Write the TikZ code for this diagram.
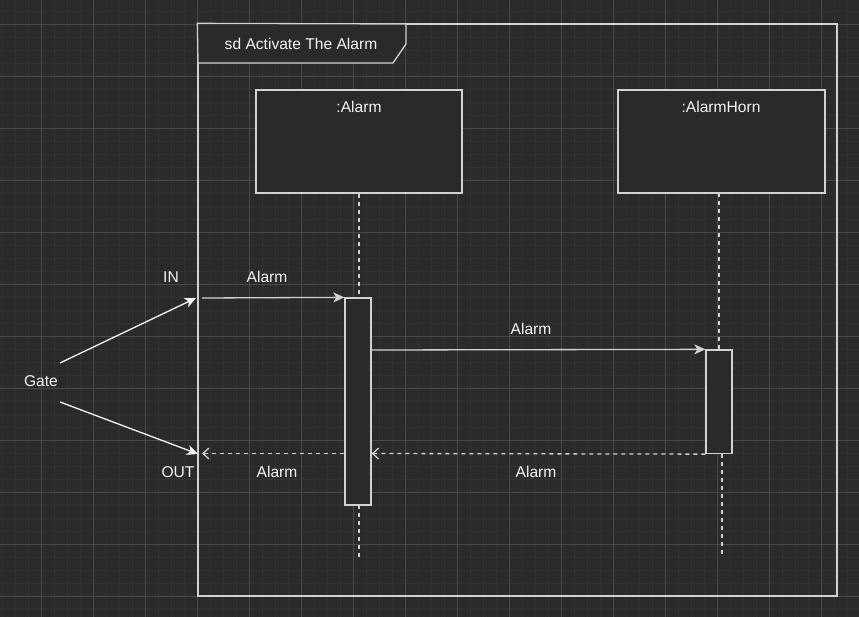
\documentclass[tikz,border=0pt]{standalone}
\usepackage{fontspec}
\setmainfont{Liberation Sans}
\usetikzlibrary{arrows.meta,calc}
\definecolor{bgc}{HTML}{2A2A2A}
\definecolor{minorg}{HTML}{333333}
\definecolor{majorg}{HTML}{4A4A4A}
\definecolor{linec}{HTML}{D2D2D2}
\definecolor{txtc}{HTML}{F4F4F4}
\tikzset{
  every node/.style={font=\fontsize{15.6}{18}\selectfont, text=txtc},
  box/.style={draw=linec, line width=1.3pt, fill=bgc, rectangle, inner sep=0pt},
  lbl/.style={inner sep=0pt},
  msg/.style={draw=linec, line width=1.3pt, -{Stealth[length=11pt,width=10pt,inset=3pt]}},
  ret/.style={draw=linec, line width=1.3pt, dash pattern=on 4pt off 4pt, -{Straight Barb[length=6pt,width=11pt]}},
  life/.style={draw=linec, line width=1.3pt, dash pattern=on 4pt off 4pt},
  gatearr/.style={draw=txtc, line width=1.3pt, -{Stealth[length=11pt,width=10pt,inset=3pt]}},
}
\begin{document}
\begin{tikzpicture}[x=1pt,y=-1pt]
\useasboundingbox (0,0) rectangle (859,617);
\fill[bgc] (0,0) rectangle (859,617);
% grid
\foreach \i in {0,...,66} {\draw[minorg, line width=1pt] ({2.3+13*\i},0) -- ({2.3+13*\i},617);}
\foreach \i in {0,...,47} {\draw[minorg, line width=1pt] (0,{11.3+13*\i}) -- (859,{11.3+13*\i});}
\foreach \i in {-1,...,16} {\draw[majorg, line width=1pt] ({41.3+52*\i},0) -- ({41.3+52*\i},617);}
\foreach \i in {0,...,12} {\draw[majorg, line width=1pt] (0,{24.3+52*\i}) -- (859,{24.3+52*\i});}
% frame
\node[draw=linec, line width=1.3pt, rectangle, minimum width=639pt, minimum height=572pt, inner sep=0pt] (frame) at (517.5,310) {};
\draw[linec, line width=1.3pt, fill=bgc] (frame.north west) -- (406,24) -- (406,44) -- (393,63) -- (198,63) -- cycle;
\node[lbl] (title) at (301,44) {sd Activate The Alarm};
% lifeline heads
\node[box, minimum width=206pt, minimum height=103pt] (alarm) at (359,141.5) {};
\node[lbl] (alarmlbl) at (359,107) {:Alarm};
\node[box, minimum width=207pt, minimum height=103pt] (horn) at (721.5,141.5) {};
\node[lbl] (hornlbl) at (721,107) {:AlarmHorn};
% activations
\node[box, minimum width=26pt, minimum height=207pt] (act1) at (358,401.5) {};
\node[box, minimum width=26pt, minimum height=103.5pt] (act2) at (719,401.75) {};
% lifelines
\coordinate (a1end) at (359,557);
\coordinate (h1end) at (722,557);
\draw[life] (alarm.south -| 359,0) -- (359,298);
\draw[life] (359,505) -- (a1end);
\draw[life] (719,193) -- (act2.north);
\draw[life] (722,453.5) -- (h1end);
% redraw activations on top of lifelines
\node[box, minimum width=26pt, minimum height=207pt] at (act1) {};
\node[box, minimum width=26pt, minimum height=103.5pt] at (act2) {};
% gates
\coordinate (gin) at (202,298);
\coordinate (gout) at (202,453);
\coordinate (ga) at (60,363);
\coordinate (gb) at (60,402);
\coordinate (ta) at (196,298);
\coordinate (tb) at (198,454);
% messages
\draw[msg] (gin) -- (act1.north west);
\node[lbl] (m1) at (267,277) {Alarm};
\draw[msg] (act1.east |- 0,350) -- (act2.north west);
\node[lbl] (m2) at (531,329) {Alarm};
\draw[ret] (act2.south west) -- (act1.east |- 0,453.5);
\node[lbl] (m3) at (536,472) {Alarm};
\draw[ret] (act1.west |- 0,453.5) -- (gout |- 0,453.5);
\node[lbl] (m4) at (277,472) {Alarm};
% gate labels
\node[lbl] (inl) at (171,277) {IN};
\node[lbl] (outl) at (178,472) {OUT};
\node[lbl] (gate) at (41,381) {Gate};
\draw[gatearr] (ga) -- (ta);
\draw[gatearr] (gb) -- (tb);
\end{tikzpicture}
\end{document}
